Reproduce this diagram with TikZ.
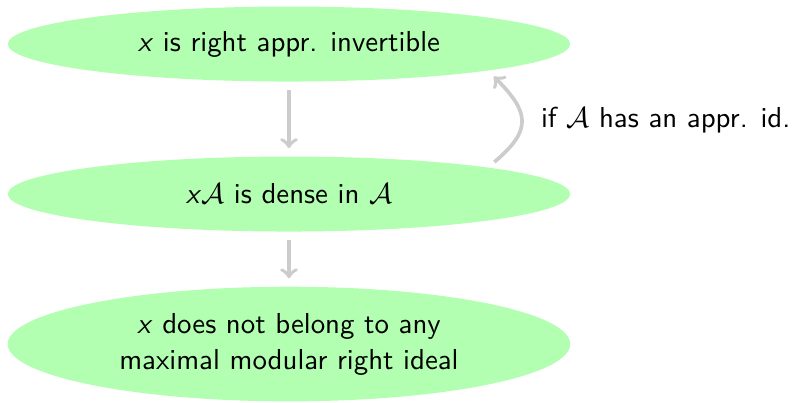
\documentclass[tikz,border=0pt,11pt]{standalone}
\usepackage{tikz}
\usetikzlibrary{shapes.geometric,positioning}

\begin{document}
\begin{tikzpicture}[
  prop/.style={ellipse, fill=green!30, minimum width=7.5cm, minimum height=1cm, align=center, font=\sffamily},
  imp/.style={->, gray!40, line width=1.4pt, shorten >=3pt, shorten <=3pt},
  on grid]
  \useasboundingbox (-3.853,0.587) rectangle (6.747,-4.773);
  \node[prop] (inv) {\textit{x} is right appr. invertible};
  \node[prop] (dense) [below=2cm of inv] {\textit{x}$\mathcal{A}$ is dense in $\mathcal{A}$};
  \node[prop, minimum height=1.4cm] (ideal) [below=2cm of dense] {\textit{x} does not belong to any\\ maximal modular right ideal};

  \draw[imp] (inv) -- (dense);
  \draw[imp] (dense) -- (ideal);
  \draw[imp] (dense.north east) to[out=40, in=-45, looseness=1.55] node[right=3.5pt, text=black, font=\sffamily] {if $\mathcal{A}$ has an appr. id.} (inv.south east);
\end{tikzpicture}
\end{document}
